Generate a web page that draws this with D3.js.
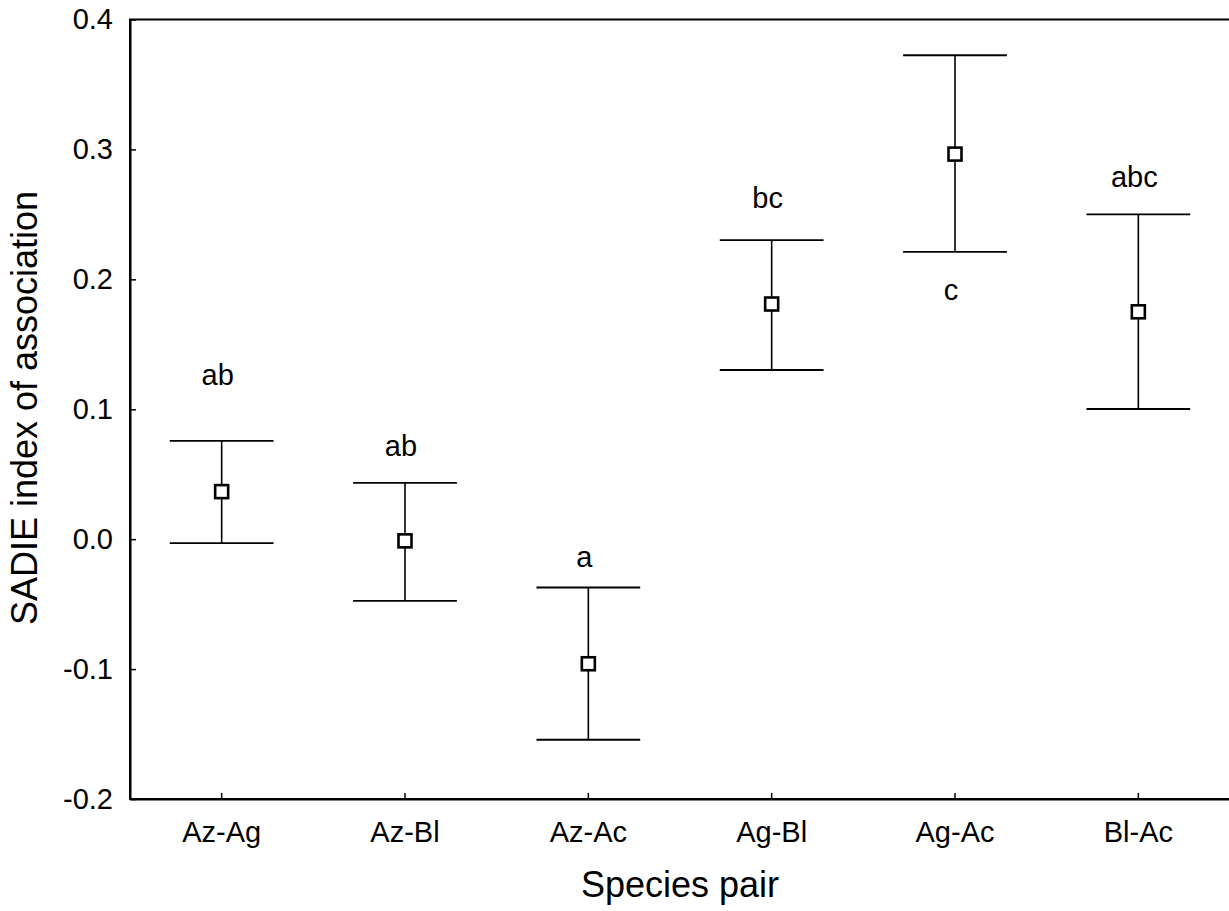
<!DOCTYPE html>
<html>
<head>
<meta charset="utf-8">
<script src="https://cdn.jsdelivr.net/npm/d3@7"></script>
<style>
  body { margin: 0; background: #fff; }
  text { font-family: "Liberation Sans", Arial, sans-serif; fill: #000; }
</style>
</head>
<body>
<svg id="chart"></svg>
<script>
// species pairs and SADIE association values
var pairs = ["Az-Ag", "Az-Bl", "Az-Ac", "Ag-Bl", "Ag-Ac", "Bl-Ac"];
var means = [0.0366, -0.0013, -0.0959, 0.181, 0.2964, 0.175];
var upper = [0.0756, 0.0433, -0.0372, 0.2302, 0.3725, 0.25];
var lower = [-0.0031, -0.0475, -0.1544, 0.1302, 0.2212, 0.1002];
var letters = ["ab", "ab", "a", "bc", "c", "abc"];
var letterAt = [0.1187, 0.0641, -0.0213, 0.2548, 0.1841, 0.271];
var yTicks = [-0.2, -0.1, 0.0, 0.1, 0.2, 0.3, 0.4];

var width = 1229;
var height = 911;
var plotL = 130, plotR = 1230, plotT = 19.5, plotB = 799;

var svg = d3.select("#chart").attr("width", width).attr("height", height);

var x = d3.scaleBand().domain(pairs).range([plotL, plotR]).padding(0);
var y = d3.scaleLinear().domain([-0.2, 0.4]).range([plotB, plotT]);

var rows = pairs.map(function(p, i) {
  return {pair: p, mean: means[i], hi: upper[i], lo: lower[i], letter: letters[i], at: letterAt[i]};
});

// frame
svg.append("rect")
  .attr("x", plotL).attr("y", plotT)
  .attr("width", plotR - plotL).attr("height", plotB - plotT)
  .attr("fill", "none").attr("stroke", "#000").attr("stroke-width", 2);

var xAxis = svg.append("g")
  .attr("transform", "translate(0," + plotB + ")")
  .call(d3.axisBottom(x).tickSizeInner(-6).tickSizeOuter(0).tickPadding(22));
xAxis.select(".domain").attr("stroke-width", 2);
xAxis.selectAll(".tick line").attr("stroke-width", 1.5);
xAxis.selectAll("text").style("font-size", "29px");

var yAxis = svg.append("g")
  .attr("transform", "translate(" + plotL + ",0)")
  .call(d3.axisLeft(y).tickValues(yTicks).tickSizeInner(-6).tickSizeOuter(0).tickPadding(17)
    .tickFormat(function(d) { return d.toFixed(1); }));
yAxis.select(".domain").attr("stroke-width", 2);
yAxis.selectAll(".tick line").attr("stroke-width", 1.5);
yAxis.selectAll("text").style("font-size", "29px");

var half = x.bandwidth() * 0.283;
var cx = function(d) { return x(d.pair) + x.bandwidth() / 2; };

var bars = svg.append("g").selectAll("g")
  .data(rows)
  .enter().append("g");

bars.append("line")
  .attr("x1", cx).attr("x2", cx)
  .attr("y1", function(d) { return y(d.hi); })
  .attr("y2", function(d) { return y(d.lo); })
  .attr("stroke", "#000").attr("stroke-width", 1.6);

bars.append("line")
  .attr("x1", function(d) { return cx(d) - half; })
  .attr("x2", function(d) { return cx(d) + half; })
  .attr("y1", function(d) { return y(d.hi); })
  .attr("y2", function(d) { return y(d.hi); })
  .attr("stroke", "#000").attr("stroke-width", 1.8);

bars.append("line")
  .attr("x1", function(d) { return cx(d) - half; })
  .attr("x2", function(d) { return cx(d) + half; })
  .attr("y1", function(d) { return y(d.lo); })
  .attr("y2", function(d) { return y(d.lo); })
  .attr("stroke", "#000").attr("stroke-width", 1.8);

var sq = 13;
bars.append("rect")
  .attr("x", function(d) { return cx(d) - sq / 2; })
  .attr("y", function(d) { return y(d.mean) - sq / 2; })
  .attr("width", sq).attr("height", sq)
  .attr("fill", "#fff").attr("stroke", "#000").attr("stroke-width", 2.6);

bars.append("text")
  .attr("x", function(d) { return cx(d) - 4; })
  .attr("y", function(d) { return y(d.at); })
  .attr("text-anchor", "middle")
  .style("font-size", "29px")
  .text(function(d) { return d.letter; });

// axis titles
svg.append("text")
  .attr("x", (plotL + plotR) / 2)
  .attr("y", 897)
  .attr("text-anchor", "middle")
  .style("font-size", "36px")
  .text("Species pair");

svg.append("text")
  .attr("transform", "translate(37," + 408 + ") rotate(-90)")
  .attr("text-anchor", "middle")
  .style("font-size", "36px")
  .text("SADIE index of association");
</script>
</body>
</html>
